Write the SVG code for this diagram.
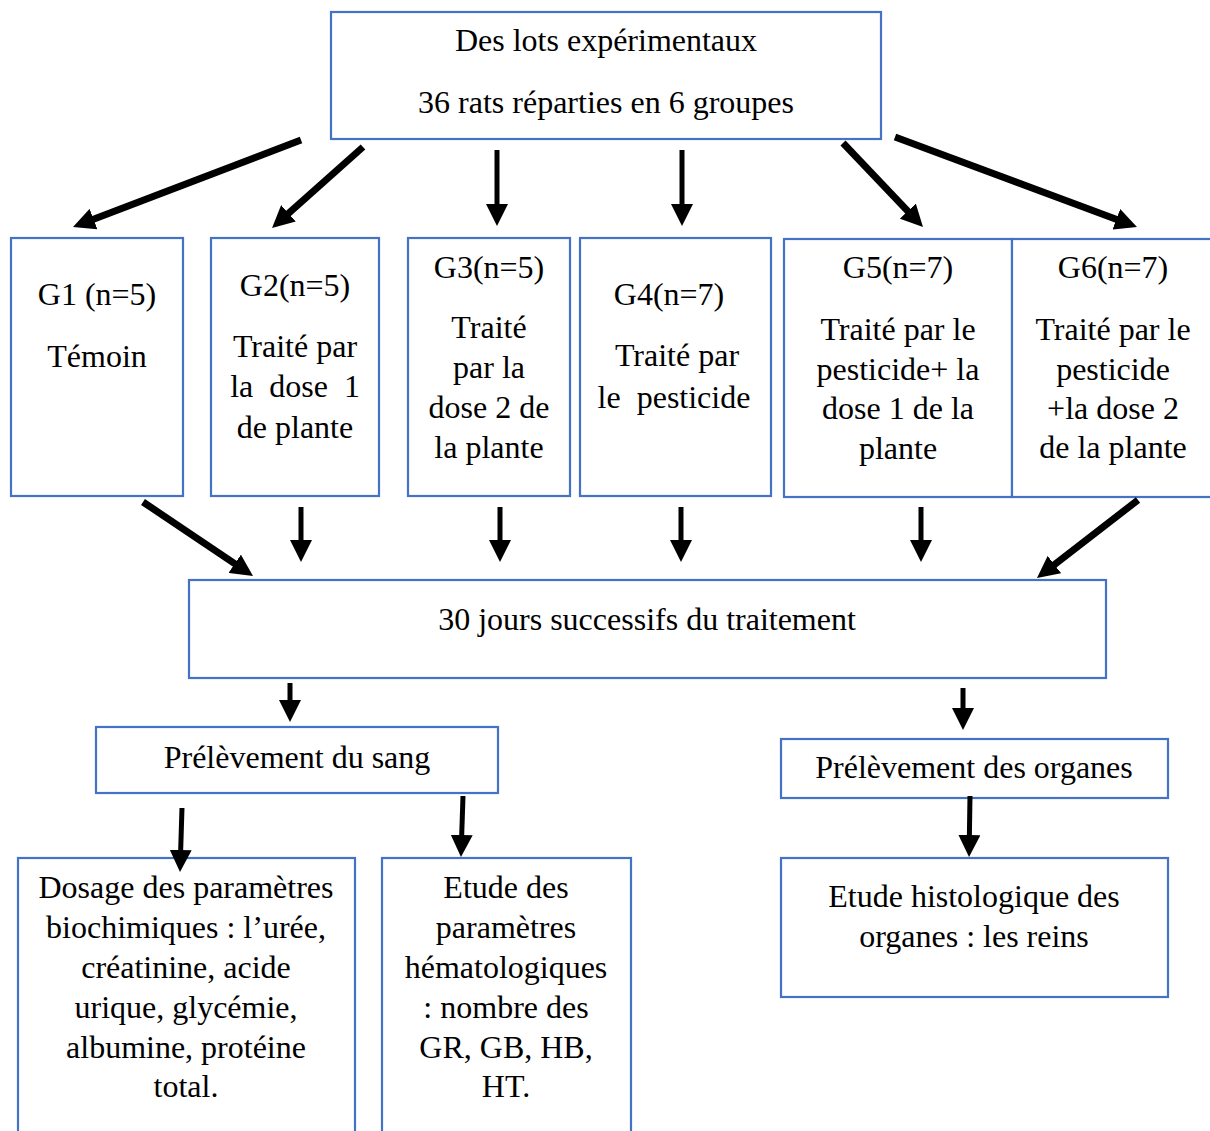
<svg xmlns="http://www.w3.org/2000/svg" width="1210" height="1131" viewBox="0 0 1210 1131">
<style>
.box{fill:#fff;stroke:#4472C4;stroke-width:2.2}
.t{font-family:"Liberation Serif","Times New Roman",serif;font-size:32px;fill:#000;text-anchor:middle}
.pre{white-space:pre}
.d{stroke:#000;stroke-width:7;fill:none}
.v{stroke:#000;stroke-width:5;fill:none}
</style>
<defs>
<marker id="ah" viewBox="0 0 22 22" refX="12" refY="11" markerWidth="22" markerHeight="22" markerUnits="userSpaceOnUse" orient="auto">
<path d="M0,0 L22,11 L0,22 Z" fill="#000"/>
</marker>
</defs>
<rect width="1210" height="1131" fill="#fff"/>
<g id="top">
<rect class="box" x="331" y="12" width="550" height="127"/>
<text class="t" x="606" y="51">Des lots expérimentaux</text>
<text class="t" x="606" y="113">36 rats réparties en 6 groupes</text>
</g>
<g id="g1">
<rect class="box" x="11" y="238" width="172" height="258"/>
<text class="t" x="97" y="305">G1 (n=5)</text>
<text class="t" x="97" y="367">Témoin</text>
</g>
<g id="g2">
<rect class="box" x="211" y="238" width="168" height="258"/>
<text class="t" x="295" y="296">G2(n=5)</text>
<text class="t" x="295" y="357">Traité par</text>
<text class="t pre" x="295" y="397">la  dose  1</text>
<text class="t" x="295" y="438">de plante</text>
</g>
<g id="g3">
<rect class="box" x="408" y="238" width="162" height="258"/>
<text class="t" x="489" y="278">G3(n=5)</text>
<text class="t" x="489" y="338">Traité</text>
<text class="t" x="489" y="378">par la</text>
<text class="t" x="489" y="418">dose 2 de</text>
<text class="t" x="489" y="458">la plante</text>
</g>
<g id="g4">
<rect class="box" x="580" y="238" width="191" height="258"/>
<text class="t" x="669" y="305">G4(n=7)</text>
<text class="t" x="677" y="366">Traité par</text>
<text class="t pre" x="674" y="408">le  pesticide</text>
</g>
<g id="g5">
<rect class="box" x="784" y="239" width="228" height="258"/>
<text class="t" x="898" y="278">G5(n=7)</text>
<text class="t" x="898" y="340">Traité par le</text>
<text class="t" x="898" y="380">pesticide+ la</text>
<text class="t" x="898" y="419">dose 1 de la</text>
<text class="t" x="898" y="459">plante</text>
</g>
<g id="g6">
<rect class="box" x="1012" y="239" width="200" height="258"/>
<text class="t" x="1113" y="278">G6(n=7)</text>
<text class="t" x="1113" y="340">Traité par le</text>
<text class="t" x="1113" y="380">pesticide</text>
<text class="t" x="1113" y="419">+la dose 2</text>
<text class="t" x="1113" y="458">de la plante</text>
</g>
<g id="traitement">
<rect class="box" x="189" y="580" width="917" height="98"/>
<text class="t" x="647" y="630">30 jours successifs du traitement</text>
</g>
<g id="sang">
<rect class="box" x="96" y="727" width="402" height="66"/>
<text class="t" x="297" y="768">Prélèvement du sang</text>
</g>
<g id="organes">
<rect class="box" x="781" y="739" width="387" height="59"/>
<text class="t" x="974" y="778">Prélèvement des organes</text>
</g>
<g id="dosage">
<rect class="box" x="18" y="858" width="337" height="280"/>
<text class="t" x="186" y="898">Dosage des paramètres</text>
<text class="t" x="186" y="938">biochimiques : l’urée,</text>
<text class="t" x="186" y="978">créatinine, acide</text>
<text class="t" x="186" y="1018">urique, glycémie,</text>
<text class="t" x="186" y="1058">albumine, protéine</text>
<text class="t" x="186" y="1097">total.</text>
</g>
<g id="hemato">
<rect class="box" x="382" y="858" width="249" height="280"/>
<text class="t" x="506" y="898">Etude des</text>
<text class="t" x="506" y="938">paramètres</text>
<text class="t" x="506" y="978">hématologiques</text>
<text class="t" x="506" y="1018">: nombre des</text>
<text class="t" x="506" y="1058">GR, GB, HB,</text>
<text class="t" x="506" y="1097">HT.</text>
</g>
<g id="histo">
<rect class="box" x="781" y="858" width="387" height="139"/>
<text class="t" x="974" y="907">Etude histologique des</text>
<text class="t" x="974" y="947">organes : les reins</text>
</g>
<g id="connectors">
<line class="d" x1="301" y1="140" x2="82.3" y2="223.4" marker-end="url(#ah)"/>
<line class="d" x1="363" y1="147" x2="279.5" y2="221.3" marker-end="url(#ah)"/>
<line class="v" x1="497" y1="150" x2="497" y2="216" marker-end="url(#ah)"/>
<line class="v" x1="682" y1="150" x2="682" y2="216" marker-end="url(#ah)"/>
<line class="d" x1="843" y1="143" x2="916.1" y2="219.8" marker-end="url(#ah)"/>
<line class="d" x1="895" y1="137" x2="1127.6" y2="223.5" marker-end="url(#ah)"/>
<line class="d" x1="143" y1="502" x2="244.7" y2="570.4" marker-end="url(#ah)"/>
<line class="v" x1="301" y1="507" x2="301" y2="552" marker-end="url(#ah)"/>
<line class="v" x1="500" y1="507" x2="500" y2="552" marker-end="url(#ah)"/>
<line class="v" x1="681" y1="507" x2="681" y2="552" marker-end="url(#ah)"/>
<line class="v" x1="921" y1="507" x2="921" y2="552" marker-end="url(#ah)"/>
<line class="d" x1="1138" y1="500" x2="1044.9" y2="571.9" marker-end="url(#ah)"/>
<line class="v" x1="290" y1="683" x2="290" y2="712" marker-end="url(#ah)"/>
<line class="v" x1="963" y1="688" x2="963" y2="720" marker-end="url(#ah)"/>
<line class="v" x1="182" y1="808" x2="180.3" y2="862" marker-end="url(#ah)"/>
<line class="v" x1="463" y1="796" x2="461.3" y2="847" marker-end="url(#ah)"/>
<line class="v" x1="970" y1="796" x2="969.2" y2="847" marker-end="url(#ah)"/>
</g>
</svg>
